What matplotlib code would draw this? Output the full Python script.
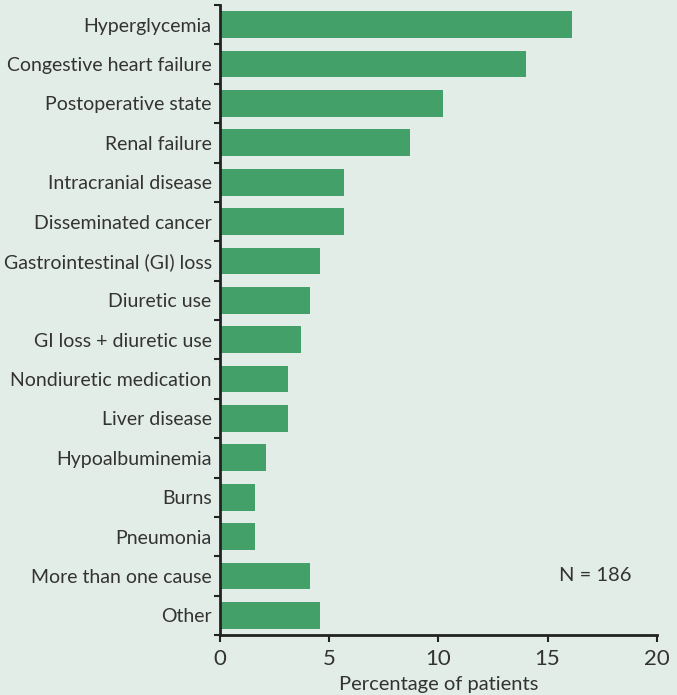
import numpy as np
from matplotlib import pyplot as plt
from matplotlib.ticker import FixedLocator

causes = ['Hyperglycemia', 'Congestive heart failure', 'Postoperative state',
          'Renal failure', 'Intracranial disease', 'Disseminated cancer',
          'Gastrointestinal (GI) loss', 'Diuretic use', 'GI loss + diuretic use',
          'Nondiuretic medication', 'Liver disease', 'Hypoalbuminemia',
          'Burns', 'Pneumonia', 'More than one cause', 'Other']
percent = [16.1, 14.0, 10.2, 8.7, 5.7, 5.7, 4.6, 4.1, 3.7,
           3.1, 3.1, 2.1, 1.6, 1.6, 4.1, 4.6]

bg = '#e3ede7'
bar_color = '#42a068'
text_color = '#333333'

plt.rcParams['font.family'] = ['Lato', 'DejaVu Sans']

fig = plt.figure(figsize=(6.77, 6.95), dpi=100, facecolor=bg)
ax = fig.add_axes([0.325, 0.0863, 0.645, 0.9065], facecolor=bg)

y = np.arange(len(causes))
ax.barh(y, percent, height=0.68, color=bar_color)
ax.set_ylim(len(causes) - 0.5, -0.5)
ax.set_xlim(0, 20)

ax.set_yticks(y)
ax.set_yticklabels(causes, fontsize=14, color=text_color)
ax.tick_params(axis='y', which='major', length=0, pad=6)
ax.yaxis.set_minor_locator(FixedLocator(np.arange(len(causes) + 1) - 0.5))
ax.tick_params(axis='y', which='minor', length=4, width=1.5, color='#222222')

ax.set_xticks([0, 5, 10, 15, 20])
ax.tick_params(axis='x', labelsize=16, labelcolor=text_color, length=5,
               width=1.5, color='#222222', pad=5)
ax.set_xlabel('Percentage of patients', fontsize=14.5, color=text_color, labelpad=5)

for s in ['top', 'right']:
    ax.spines[s].set_visible(False)
for s in ['left', 'bottom']:
    ax.spines[s].set_linewidth(2)
    ax.spines[s].set_color('#222222')

ax.text(17.2, 14, 'N = 186', fontsize=14.5, color=text_color, ha='center', va='center')

fig.savefig('out.png', dpi=100, facecolor=bg)
